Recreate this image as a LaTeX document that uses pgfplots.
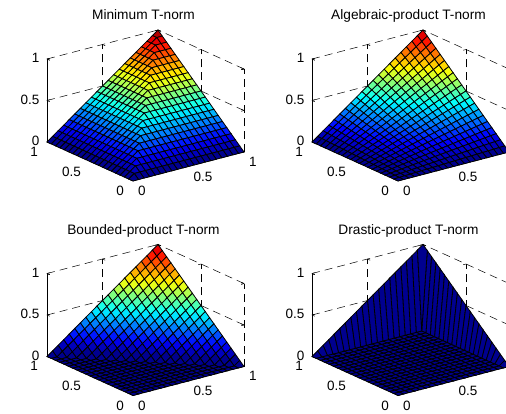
\documentclass[border=0pt]{standalone}
\usepackage{pgfplots}
\usepackage{pgfplotstable}
\pgfplotsset{compat=1.18}
\usepackage{fontspec}
\setmainfont{Liberation Sans}
\pgfplotstableread{
x y a b c d
0 0 0 0 0 0
0.05 0 0 0 0 0
0.1 0 0 0 0 0
0.15 0 0 0 0 0
0.2 0 0 0 0 0
0.25 0 0 0 0 0
0.3 0 0 0 0 0
0.35 0 0 0 0 0
0.4 0 0 0 0 0
0.45 0 0 0 0 0
0.5 0 0 0 0 0
0.55 0 0 0 0 0
0.6 0 0 0 0 0
0.65 0 0 0 0 0
0.7 0 0 0 0 0
0.75 0 0 0 0 0
0.8 0 0 0 0 0
0.85 0 0 0 0 0
0.9 0 0 0 0 0
0.95 0 0 0 0 0
1 0 0 0 0 0
0 0.05 0 0 0 0
0.05 0.05 0.05 0.0025 0 0
0.1 0.05 0.05 0.005 0 0
0.15 0.05 0.05 0.0075 0 0
0.2 0.05 0.05 0.01 0 0
0.25 0.05 0.05 0.0125 0 0
0.3 0.05 0.05 0.015 0 0
0.35 0.05 0.05 0.0175 0 0
0.4 0.05 0.05 0.02 0 0
0.45 0.05 0.05 0.0225 0 0
0.5 0.05 0.05 0.025 0 0
0.55 0.05 0.05 0.0275 0 0
0.6 0.05 0.05 0.03 0 0
0.65 0.05 0.05 0.0325 0 0
0.7 0.05 0.05 0.035 0 0
0.75 0.05 0.05 0.0375 0 0
0.8 0.05 0.05 0.04 0 0
0.85 0.05 0.05 0.0425 0 0
0.9 0.05 0.05 0.045 0 0
0.95 0.05 0.05 0.0475 0 0
1 0.05 0.05 0.05 0.05 0.05
0 0.1 0 0 0 0
0.05 0.1 0.05 0.005 0 0
0.1 0.1 0.1 0.01 0 0
0.15 0.1 0.1 0.015 0 0
0.2 0.1 0.1 0.02 0 0
0.25 0.1 0.1 0.025 0 0
0.3 0.1 0.1 0.03 0 0
0.35 0.1 0.1 0.035 0 0
0.4 0.1 0.1 0.04 0 0
0.45 0.1 0.1 0.045 0 0
0.5 0.1 0.1 0.05 0 0
0.55 0.1 0.1 0.055 0 0
0.6 0.1 0.1 0.06 0 0
0.65 0.1 0.1 0.065 0 0
0.7 0.1 0.1 0.07 0 0
0.75 0.1 0.1 0.075 0 0
0.8 0.1 0.1 0.08 0 0
0.85 0.1 0.1 0.085 0 0
0.9 0.1 0.1 0.09 0 0
0.95 0.1 0.1 0.095 0.05 0
1 0.1 0.1 0.1 0.1 0.1
0 0.15 0 0 0 0
0.05 0.15 0.05 0.0075 0 0
0.1 0.15 0.1 0.015 0 0
0.15 0.15 0.15 0.0225 0 0
0.2 0.15 0.15 0.03 0 0
0.25 0.15 0.15 0.0375 0 0
0.3 0.15 0.15 0.045 0 0
0.35 0.15 0.15 0.0525 0 0
0.4 0.15 0.15 0.06 0 0
0.45 0.15 0.15 0.0675 0 0
0.5 0.15 0.15 0.075 0 0
0.55 0.15 0.15 0.0825 0 0
0.6 0.15 0.15 0.09 0 0
0.65 0.15 0.15 0.0975 0 0
0.7 0.15 0.15 0.105 0 0
0.75 0.15 0.15 0.1125 0 0
0.8 0.15 0.15 0.12 0 0
0.85 0.15 0.15 0.1275 0 0
0.9 0.15 0.15 0.135 0.05 0
0.95 0.15 0.15 0.1425 0.1 0
1 0.15 0.15 0.15 0.15 0.15
0 0.2 0 0 0 0
0.05 0.2 0.05 0.01 0 0
0.1 0.2 0.1 0.02 0 0
0.15 0.2 0.15 0.03 0 0
0.2 0.2 0.2 0.04 0 0
0.25 0.2 0.2 0.05 0 0
0.3 0.2 0.2 0.06 0 0
0.35 0.2 0.2 0.07 0 0
0.4 0.2 0.2 0.08 0 0
0.45 0.2 0.2 0.09 0 0
0.5 0.2 0.2 0.1 0 0
0.55 0.2 0.2 0.11 0 0
0.6 0.2 0.2 0.12 0 0
0.65 0.2 0.2 0.13 0 0
0.7 0.2 0.2 0.14 0 0
0.75 0.2 0.2 0.15 0 0
0.8 0.2 0.2 0.16 0 0
0.85 0.2 0.2 0.17 0.05 0
0.9 0.2 0.2 0.18 0.1 0
0.95 0.2 0.2 0.19 0.15 0
1 0.2 0.2 0.2 0.2 0.2
0 0.25 0 0 0 0
0.05 0.25 0.05 0.0125 0 0
0.1 0.25 0.1 0.025 0 0
0.15 0.25 0.15 0.0375 0 0
0.2 0.25 0.2 0.05 0 0
0.25 0.25 0.25 0.0625 0 0
0.3 0.25 0.25 0.075 0 0
0.35 0.25 0.25 0.0875 0 0
0.4 0.25 0.25 0.1 0 0
0.45 0.25 0.25 0.1125 0 0
0.5 0.25 0.25 0.125 0 0
0.55 0.25 0.25 0.1375 0 0
0.6 0.25 0.25 0.15 0 0
0.65 0.25 0.25 0.1625 0 0
0.7 0.25 0.25 0.175 0 0
0.75 0.25 0.25 0.1875 0 0
0.8 0.25 0.25 0.2 0.05 0
0.85 0.25 0.25 0.2125 0.1 0
0.9 0.25 0.25 0.225 0.15 0
0.95 0.25 0.25 0.2375 0.2 0
1 0.25 0.25 0.25 0.25 0.25
0 0.3 0 0 0 0
0.05 0.3 0.05 0.015 0 0
0.1 0.3 0.1 0.03 0 0
0.15 0.3 0.15 0.045 0 0
0.2 0.3 0.2 0.06 0 0
0.25 0.3 0.25 0.075 0 0
0.3 0.3 0.3 0.09 0 0
0.35 0.3 0.3 0.105 0 0
0.4 0.3 0.3 0.12 0 0
0.45 0.3 0.3 0.135 0 0
0.5 0.3 0.3 0.15 0 0
0.55 0.3 0.3 0.165 0 0
0.6 0.3 0.3 0.18 0 0
0.65 0.3 0.3 0.195 0 0
0.7 0.3 0.3 0.21 0 0
0.75 0.3 0.3 0.225 0.05 0
0.8 0.3 0.3 0.24 0.1 0
0.85 0.3 0.3 0.255 0.15 0
0.9 0.3 0.3 0.27 0.2 0
0.95 0.3 0.3 0.285 0.25 0
1 0.3 0.3 0.3 0.3 0.3
0 0.35 0 0 0 0
0.05 0.35 0.05 0.0175 0 0
0.1 0.35 0.1 0.035 0 0
0.15 0.35 0.15 0.0525 0 0
0.2 0.35 0.2 0.07 0 0
0.25 0.35 0.25 0.0875 0 0
0.3 0.35 0.3 0.105 0 0
0.35 0.35 0.35 0.1225 0 0
0.4 0.35 0.35 0.14 0 0
0.45 0.35 0.35 0.1575 0 0
0.5 0.35 0.35 0.175 0 0
0.55 0.35 0.35 0.1925 0 0
0.6 0.35 0.35 0.21 0 0
0.65 0.35 0.35 0.2275 0 0
0.7 0.35 0.35 0.245 0.05 0
0.75 0.35 0.35 0.2625 0.1 0
0.8 0.35 0.35 0.28 0.15 0
0.85 0.35 0.35 0.2975 0.2 0
0.9 0.35 0.35 0.315 0.25 0
0.95 0.35 0.35 0.3325 0.3 0
1 0.35 0.35 0.35 0.35 0.35
0 0.4 0 0 0 0
0.05 0.4 0.05 0.02 0 0
0.1 0.4 0.1 0.04 0 0
0.15 0.4 0.15 0.06 0 0
0.2 0.4 0.2 0.08 0 0
0.25 0.4 0.25 0.1 0 0
0.3 0.4 0.3 0.12 0 0
0.35 0.4 0.35 0.14 0 0
0.4 0.4 0.4 0.16 0 0
0.45 0.4 0.4 0.18 0 0
0.5 0.4 0.4 0.2 0 0
0.55 0.4 0.4 0.22 0 0
0.6 0.4 0.4 0.24 0 0
0.65 0.4 0.4 0.26 0.05 0
0.7 0.4 0.4 0.28 0.1 0
0.75 0.4 0.4 0.3 0.15 0
0.8 0.4 0.4 0.32 0.2 0
0.85 0.4 0.4 0.34 0.25 0
0.9 0.4 0.4 0.36 0.3 0
0.95 0.4 0.4 0.38 0.35 0
1 0.4 0.4 0.4 0.4 0.4
0 0.45 0 0 0 0
0.05 0.45 0.05 0.0225 0 0
0.1 0.45 0.1 0.045 0 0
0.15 0.45 0.15 0.0675 0 0
0.2 0.45 0.2 0.09 0 0
0.25 0.45 0.25 0.1125 0 0
0.3 0.45 0.3 0.135 0 0
0.35 0.45 0.35 0.1575 0 0
0.4 0.45 0.4 0.18 0 0
0.45 0.45 0.45 0.2025 0 0
0.5 0.45 0.45 0.225 0 0
0.55 0.45 0.45 0.2475 0 0
0.6 0.45 0.45 0.27 0.05 0
0.65 0.45 0.45 0.2925 0.1 0
0.7 0.45 0.45 0.315 0.15 0
0.75 0.45 0.45 0.3375 0.2 0
0.8 0.45 0.45 0.36 0.25 0
0.85 0.45 0.45 0.3825 0.3 0
0.9 0.45 0.45 0.405 0.35 0
0.95 0.45 0.45 0.4275 0.4 0
1 0.45 0.45 0.45 0.45 0.45
0 0.5 0 0 0 0
0.05 0.5 0.05 0.025 0 0
0.1 0.5 0.1 0.05 0 0
0.15 0.5 0.15 0.075 0 0
0.2 0.5 0.2 0.1 0 0
0.25 0.5 0.25 0.125 0 0
0.3 0.5 0.3 0.15 0 0
0.35 0.5 0.35 0.175 0 0
0.4 0.5 0.4 0.2 0 0
0.45 0.5 0.45 0.225 0 0
0.5 0.5 0.5 0.25 0 0
0.55 0.5 0.5 0.275 0.05 0
0.6 0.5 0.5 0.3 0.1 0
0.65 0.5 0.5 0.325 0.15 0
0.7 0.5 0.5 0.35 0.2 0
0.75 0.5 0.5 0.375 0.25 0
0.8 0.5 0.5 0.4 0.3 0
0.85 0.5 0.5 0.425 0.35 0
0.9 0.5 0.5 0.45 0.4 0
0.95 0.5 0.5 0.475 0.45 0
1 0.5 0.5 0.5 0.5 0.5
0 0.55 0 0 0 0
0.05 0.55 0.05 0.0275 0 0
0.1 0.55 0.1 0.055 0 0
0.15 0.55 0.15 0.0825 0 0
0.2 0.55 0.2 0.11 0 0
0.25 0.55 0.25 0.1375 0 0
0.3 0.55 0.3 0.165 0 0
0.35 0.55 0.35 0.1925 0 0
0.4 0.55 0.4 0.22 0 0
0.45 0.55 0.45 0.2475 0 0
0.5 0.55 0.5 0.275 0.05 0
0.55 0.55 0.55 0.3025 0.1 0
0.6 0.55 0.55 0.33 0.15 0
0.65 0.55 0.55 0.3575 0.2 0
0.7 0.55 0.55 0.385 0.25 0
0.75 0.55 0.55 0.4125 0.3 0
0.8 0.55 0.55 0.44 0.35 0
0.85 0.55 0.55 0.4675 0.4 0
0.9 0.55 0.55 0.495 0.45 0
0.95 0.55 0.55 0.5225 0.5 0
1 0.55 0.55 0.55 0.55 0.55
0 0.6 0 0 0 0
0.05 0.6 0.05 0.03 0 0
0.1 0.6 0.1 0.06 0 0
0.15 0.6 0.15 0.09 0 0
0.2 0.6 0.2 0.12 0 0
0.25 0.6 0.25 0.15 0 0
0.3 0.6 0.3 0.18 0 0
0.35 0.6 0.35 0.21 0 0
0.4 0.6 0.4 0.24 0 0
0.45 0.6 0.45 0.27 0.05 0
0.5 0.6 0.5 0.3 0.1 0
0.55 0.6 0.55 0.33 0.15 0
0.6 0.6 0.6 0.36 0.2 0
0.65 0.6 0.6 0.39 0.25 0
0.7 0.6 0.6 0.42 0.3 0
0.75 0.6 0.6 0.45 0.35 0
0.8 0.6 0.6 0.48 0.4 0
0.85 0.6 0.6 0.51 0.45 0
0.9 0.6 0.6 0.54 0.5 0
0.95 0.6 0.6 0.57 0.55 0
1 0.6 0.6 0.6 0.6 0.6
0 0.65 0 0 0 0
0.05 0.65 0.05 0.0325 0 0
0.1 0.65 0.1 0.065 0 0
0.15 0.65 0.15 0.0975 0 0
0.2 0.65 0.2 0.13 0 0
0.25 0.65 0.25 0.1625 0 0
0.3 0.65 0.3 0.195 0 0
0.35 0.65 0.35 0.2275 0 0
0.4 0.65 0.4 0.26 0.05 0
0.45 0.65 0.45 0.2925 0.1 0
0.5 0.65 0.5 0.325 0.15 0
0.55 0.65 0.55 0.3575 0.2 0
0.6 0.65 0.6 0.39 0.25 0
0.65 0.65 0.65 0.4225 0.3 0
0.7 0.65 0.65 0.455 0.35 0
0.75 0.65 0.65 0.4875 0.4 0
0.8 0.65 0.65 0.52 0.45 0
0.85 0.65 0.65 0.5525 0.5 0
0.9 0.65 0.65 0.585 0.55 0
0.95 0.65 0.65 0.6175 0.6 0
1 0.65 0.65 0.65 0.65 0.65
0 0.7 0 0 0 0
0.05 0.7 0.05 0.035 0 0
0.1 0.7 0.1 0.07 0 0
0.15 0.7 0.15 0.105 0 0
0.2 0.7 0.2 0.14 0 0
0.25 0.7 0.25 0.175 0 0
0.3 0.7 0.3 0.21 0 0
0.35 0.7 0.35 0.245 0.05 0
0.4 0.7 0.4 0.28 0.1 0
0.45 0.7 0.45 0.315 0.15 0
0.5 0.7 0.5 0.35 0.2 0
0.55 0.7 0.55 0.385 0.25 0
0.6 0.7 0.6 0.42 0.3 0
0.65 0.7 0.65 0.455 0.35 0
0.7 0.7 0.7 0.49 0.4 0
0.75 0.7 0.7 0.525 0.45 0
0.8 0.7 0.7 0.56 0.5 0
0.85 0.7 0.7 0.595 0.55 0
0.9 0.7 0.7 0.63 0.6 0
0.95 0.7 0.7 0.665 0.65 0
1 0.7 0.7 0.7 0.7 0.7
0 0.75 0 0 0 0
0.05 0.75 0.05 0.0375 0 0
0.1 0.75 0.1 0.075 0 0
0.15 0.75 0.15 0.1125 0 0
0.2 0.75 0.2 0.15 0 0
0.25 0.75 0.25 0.1875 0 0
0.3 0.75 0.3 0.225 0.05 0
0.35 0.75 0.35 0.2625 0.1 0
0.4 0.75 0.4 0.3 0.15 0
0.45 0.75 0.45 0.3375 0.2 0
0.5 0.75 0.5 0.375 0.25 0
0.55 0.75 0.55 0.4125 0.3 0
0.6 0.75 0.6 0.45 0.35 0
0.65 0.75 0.65 0.4875 0.4 0
0.7 0.75 0.7 0.525 0.45 0
0.75 0.75 0.75 0.5625 0.5 0
0.8 0.75 0.75 0.6 0.55 0
0.85 0.75 0.75 0.6375 0.6 0
0.9 0.75 0.75 0.675 0.65 0
0.95 0.75 0.75 0.7125 0.7 0
1 0.75 0.75 0.75 0.75 0.75
0 0.8 0 0 0 0
0.05 0.8 0.05 0.04 0 0
0.1 0.8 0.1 0.08 0 0
0.15 0.8 0.15 0.12 0 0
0.2 0.8 0.2 0.16 0 0
0.25 0.8 0.25 0.2 0.05 0
0.3 0.8 0.3 0.24 0.1 0
0.35 0.8 0.35 0.28 0.15 0
0.4 0.8 0.4 0.32 0.2 0
0.45 0.8 0.45 0.36 0.25 0
0.5 0.8 0.5 0.4 0.3 0
0.55 0.8 0.55 0.44 0.35 0
0.6 0.8 0.6 0.48 0.4 0
0.65 0.8 0.65 0.52 0.45 0
0.7 0.8 0.7 0.56 0.5 0
0.75 0.8 0.75 0.6 0.55 0
0.8 0.8 0.8 0.64 0.6 0
0.85 0.8 0.8 0.68 0.65 0
0.9 0.8 0.8 0.72 0.7 0
0.95 0.8 0.8 0.76 0.75 0
1 0.8 0.8 0.8 0.8 0.8
0 0.85 0 0 0 0
0.05 0.85 0.05 0.0425 0 0
0.1 0.85 0.1 0.085 0 0
0.15 0.85 0.15 0.1275 0 0
0.2 0.85 0.2 0.17 0.05 0
0.25 0.85 0.25 0.2125 0.1 0
0.3 0.85 0.3 0.255 0.15 0
0.35 0.85 0.35 0.2975 0.2 0
0.4 0.85 0.4 0.34 0.25 0
0.45 0.85 0.45 0.3825 0.3 0
0.5 0.85 0.5 0.425 0.35 0
0.55 0.85 0.55 0.4675 0.4 0
0.6 0.85 0.6 0.51 0.45 0
0.65 0.85 0.65 0.5525 0.5 0
0.7 0.85 0.7 0.595 0.55 0
0.75 0.85 0.75 0.6375 0.6 0
0.8 0.85 0.8 0.68 0.65 0
0.85 0.85 0.85 0.7225 0.7 0
0.9 0.85 0.85 0.765 0.75 0
0.95 0.85 0.85 0.8075 0.8 0
1 0.85 0.85 0.85 0.85 0.85
0 0.9 0 0 0 0
0.05 0.9 0.05 0.045 0 0
0.1 0.9 0.1 0.09 0 0
0.15 0.9 0.15 0.135 0.05 0
0.2 0.9 0.2 0.18 0.1 0
0.25 0.9 0.25 0.225 0.15 0
0.3 0.9 0.3 0.27 0.2 0
0.35 0.9 0.35 0.315 0.25 0
0.4 0.9 0.4 0.36 0.3 0
0.45 0.9 0.45 0.405 0.35 0
0.5 0.9 0.5 0.45 0.4 0
0.55 0.9 0.55 0.495 0.45 0
0.6 0.9 0.6 0.54 0.5 0
0.65 0.9 0.65 0.585 0.55 0
0.7 0.9 0.7 0.63 0.6 0
0.75 0.9 0.75 0.675 0.65 0
0.8 0.9 0.8 0.72 0.7 0
0.85 0.9 0.85 0.765 0.75 0
0.9 0.9 0.9 0.81 0.8 0
0.95 0.9 0.9 0.855 0.85 0
1 0.9 0.9 0.9 0.9 0.9
0 0.95 0 0 0 0
0.05 0.95 0.05 0.0475 0 0
0.1 0.95 0.1 0.095 0.05 0
0.15 0.95 0.15 0.1425 0.1 0
0.2 0.95 0.2 0.19 0.15 0
0.25 0.95 0.25 0.2375 0.2 0
0.3 0.95 0.3 0.285 0.25 0
0.35 0.95 0.35 0.3325 0.3 0
0.4 0.95 0.4 0.38 0.35 0
0.45 0.95 0.45 0.4275 0.4 0
0.5 0.95 0.5 0.475 0.45 0
0.55 0.95 0.55 0.5225 0.5 0
0.6 0.95 0.6 0.57 0.55 0
0.65 0.95 0.65 0.6175 0.6 0
0.7 0.95 0.7 0.665 0.65 0
0.75 0.95 0.75 0.7125 0.7 0
0.8 0.95 0.8 0.76 0.75 0
0.85 0.95 0.85 0.8075 0.8 0
0.9 0.95 0.9 0.855 0.85 0
0.95 0.95 0.95 0.9025 0.9 0
1 0.95 0.95 0.95 0.95 0.95
0 1 0 0 0 0
0.05 1 0.05 0.05 0.05 0.05
0.1 1 0.1 0.1 0.1 0.1
0.15 1 0.15 0.15 0.15 0.15
0.2 1 0.2 0.2 0.2 0.2
0.25 1 0.25 0.25 0.25 0.25
0.3 1 0.3 0.3 0.3 0.3
0.35 1 0.35 0.35 0.35 0.35
0.4 1 0.4 0.4 0.4 0.4
0.45 1 0.45 0.45 0.45 0.45
0.5 1 0.5 0.5 0.5 0.5
0.55 1 0.55 0.55 0.55 0.55
0.6 1 0.6 0.6 0.6 0.6
0.65 1 0.65 0.65 0.65 0.65
0.7 1 0.7 0.7 0.7 0.7
0.75 1 0.75 0.75 0.75 0.75
0.8 1 0.8 0.8 0.8 0.8
0.85 1 0.85 0.85 0.85 0.85
0.9 1 0.9 0.9 0.9 0.9
0.95 1 0.95 0.95 0.95 0.95
1 1 1 1 1 1
}\tnorms
\pgfplotsset{colormap={mjet}{rgb=(0,0,0.56) rgb=(0,0,1) rgb=(0,0.5,1) rgb=(0,1,1) rgb=(0.5,1,0.5) rgb=(1,1,0) rgb=(1,0.5,0) rgb=(1,0,0) rgb=(0.5,0,0)}}
\pgfplotsset{tn/.style={
  anchor=origin,
  x={(111pt,29pt)},y={(-86pt,39pt)},z={(0pt,83pt)},
  xmin=0,xmax=1,ymin=0,ymax=1,zmin=0,zmax=1,
  xtick={0,0.5,1},ytick={0,0.5,1},ztick={0,0.5,1},
  xticklabels={0,0.5,1},yticklabels={0,0.5,1},zticklabels={0,0.5,1},
  grid=major,
  major grid style={black,line width=0.5pt,dash pattern=on 8pt off 5pt},
  axis line style={draw=none},
  tick style={black,line width=0.5pt},
  major tick length=3pt,
  tick align=inside,
  tick label style={font=\fontsize{13.5}{15}\selectfont,inner sep=0pt},
  xticklabel style={anchor=north west,xshift=5pt,yshift=-5pt},
  yticklabel style={anchor=north east,xshift=-9pt,yshift=-5pt},
  zticklabel style={anchor=east,xshift=-7.5pt,yshift=1pt},
  title style={font=\fontsize{13.7}{15}\selectfont,anchor=base,xshift=-2pt,yshift=4.5pt},
  clip=false,
  colormap name=mjet,point meta min=0,point meta max=1,
  z buffer=sort,
}}
\pgfplotsset{srf/.style={surf,shader=flat corner,draw=black,line width=0.8pt,mesh/rows=21,mesh/cols=21,point meta=z}}
\begin{document}
\begin{tikzpicture}[x=1pt,y=1pt]
\useasboundingbox (0,0) rectangle (506,413);
\clip (0,0) rectangle (506,413);
\begin{axis}[tn,at={(133pt,232pt)},title={Minimum T-norm}]
\addplot3[srf] table[x=x,y=y,z=a]{\tnorms};
\addplot3[black,line width=0.6pt] coordinates {(0,1,0)(0,1,1)};
\end{axis}
\begin{axis}[tn,at={(398pt,232pt)},xticklabels={0,0.5,{}},title={Algebraic-product T-norm}]
\addplot3[srf] table[x=x,y=y,z=b]{\tnorms};
\addplot3[black,line width=0.6pt] coordinates {(0,1,0)(0,1,1)};
\end{axis}
\begin{axis}[tn,at={(133pt,17.5pt)},title={Bounded-product T-norm}]
\addplot3[srf] table[x=x,y=y,z=c]{\tnorms};
\addplot3[black,line width=0.6pt] coordinates {(0,1,0)(0,1,1)};
\end{axis}
\begin{axis}[tn,at={(398pt,17.5pt)},xticklabels={0,0.5,{}},title={Drastic-product T-norm}]
\addplot3[srf] table[x=x,y=y,z=d]{\tnorms};
\addplot3[black,line width=0.6pt] coordinates {(0,1,0)(0,1,1)};
\end{axis}
\end{tikzpicture}
\end{document}
